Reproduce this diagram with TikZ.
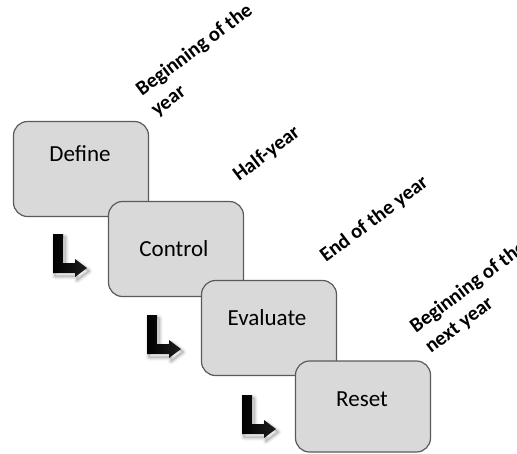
\documentclass[tikz,border=0pt]{standalone}
\usepackage{fontspec}
\setmainfont{Carlito}
\definecolor{boxfill}{RGB}{217,217,217}
\definecolor{boxline}{RGB}{90,90,90}
\begin{document}
\begin{tikzpicture}[x=1pt,y=-1pt,
  box/.style={draw=boxline, fill=boxfill, line width=1.2pt, rounded corners=14pt,
    minimum width=135pt, minimum height=95pt, inner sep=0pt},
  boxtext/.style={font=\fontsize{23}{27}\selectfont, anchor=base, inner sep=0pt},
  tlbl/.style={font=\bfseries\fontsize{20.5}{25}\selectfont, rotate=37, anchor=base west,
    inner sep=0pt, align=left},
  larrow/.pic={
    \foreach \w/\o in {7/0.04,5/0.06,3/0.08,1/0.12}
      \draw[line width=\w pt, opacity=\o, line join=round, shift={(2,3)}]
        (0,0) -- (10,0) -- (10,29) -- (22,29) -- (22,25) -- (34,34) -- (22,43) -- (22,39) -- (0,39) -- cycle;
    \shade[left color=black, right color=black!88!white]
      (0,0) -- (10,0) -- (10,29) -- (22,29) -- (22,25) -- (34,34) -- (22,43) -- (22,39) -- (0,39) -- cycle;
  }]
\useasboundingbox (0,0) rectangle (517,453);
\clip (0,0) rectangle (517,453);

\node[box] (define) at (81,169) {};
\node[box] (control) at (176,249) {};
\node[box] (evaluate) at (269,328) {};
\node[box, minimum height=91pt] (reset) at (363,406.5) {};

\node[boxtext] (tdefine) at (80,161.5) {Define};
\node[boxtext] (tcontrol) at (174,256) {Control};
\node[boxtext] (tevaluate) at (267,325) {Evaluate};
\node[boxtext] (treset) at (362,406.5) {Reset};

\pic at (53,234) {larrow};
\pic at (147,315) {larrow};
\pic at (242,395) {larrow};

\node[tlbl] (lbegin) at (157,117) {Beginning of the\\year};
\node[tlbl] (lhalf) at (239,182) {Half-year};
\node[tlbl] (lend) at (326,263) {End of the year};
\node[tlbl] (lnext) at (431,354) {Beginning of the\\next year};
\end{tikzpicture}
\end{document}
